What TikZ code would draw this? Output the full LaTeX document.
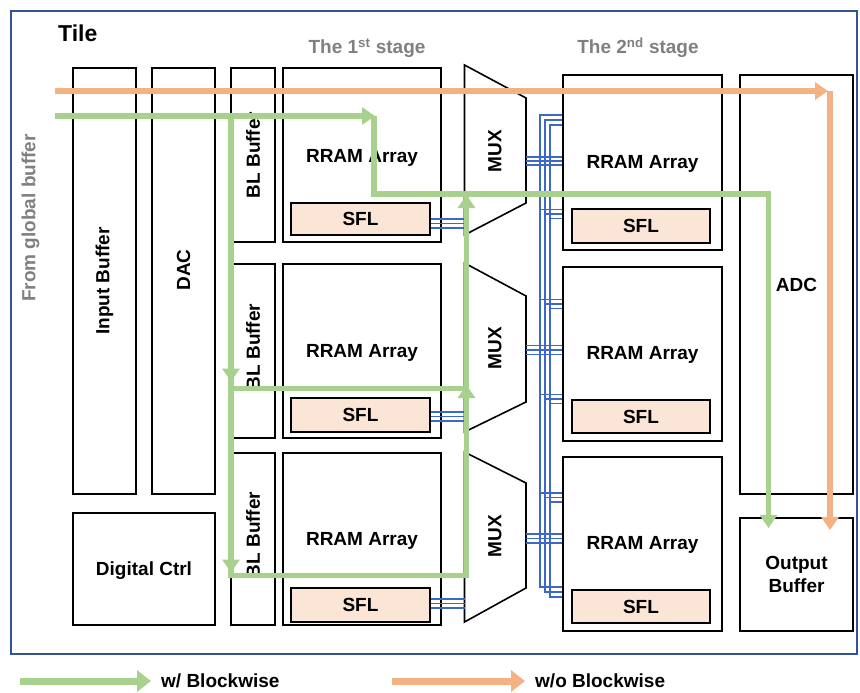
\documentclass[tikz,border=0pt]{standalone}
\usepackage{fontspec}
\setmainfont{Liberation Sans}
\usetikzlibrary{arrows.meta,calc}
\definecolor{gline}{HTML}{A9D18E}
\definecolor{oline}{HTML}{F4B183}
\definecolor{sflfill}{HTML}{FBE5D6}
\definecolor{busblue}{HTML}{3C68C8}
\definecolor{framecol}{HTML}{2F5597}
\definecolor{graytext}{HTML}{808080}
\newcommand{\labfont}{\bfseries\fontsize{19}{23}\selectfont}
\begin{document}
\begin{tikzpicture}[x=1pt,y=-1pt,
  box/.style={draw=black, line width=1.6pt, inner sep=0pt, align=center, font=\labfont},
  sflbox/.style={box, fill=sflfill},
  lab/.style={font=\labfont, inner sep=0pt},
  glab/.style={font=\labfont, text=graytext, inner sep=0pt},
  muxline/.style={draw=black, line width=1.6pt, line join=miter},
  bus/.style={draw=busblue, line width=1.3pt},
  gl/.style={draw=gline, line width=5.5pt},
  ol/.style={draw=oline, line width=5.5pt},
  garrow/.style={gl, -{Triangle[length=13pt,width=17pt]}},
  oarrow/.style={ol, -{Triangle[length=13pt,width=17pt]}},
  leggreen/.style={draw=gline, line width=7pt, -{Triangle[length=14pt,width=21pt]}},
  legorange/.style={draw=oline, line width=7pt, -{Triangle[length=14pt,width=21pt]}}
]
\useasboundingbox (0,0) rectangle (860,693);

% frame
\draw[framecol, line width=2.8pt] (11,11) rectangle (857,654);
\node[anchor=base west, font=\bfseries\fontsize{23}{27}\selectfont, inner sep=0pt] (tile) at (58,42) {Tile};
\node[glab] (st1) at (367,48) {The 1\textsuperscript{st} stage};
\node[glab] (st2) at (638,48) {The 2\textsuperscript{nd} stage};
\node[glab, rotate=90] (gbuf) at (30.5,218) {From global buffer};

% left column
\node[box, minimum width=63pt, minimum height=426pt] (inbuf) at (104.5,281) {};
\node[lab, rotate=90] at (inbuf.center) {Input Buffer};
\node[box, minimum width=63pt, minimum height=426pt] (dac) at (183.5,281) {};
\node[lab, rotate=90] at (183.5,270) {DAC};
\node[box, minimum width=142pt, minimum height=112pt] (ctrl) at (144,569) {};
\node[lab] at (144,571) {Digital Ctrl};

% BL buffers
\node[box, minimum width=44pt, minimum height=174pt] (bl1) at (253,155) {};
\node[box, minimum width=44pt, minimum height=174pt] (bl2) at (253,351) {};
\node[box, minimum width=44pt, minimum height=172pt] (bl3) at (253,539) {};
\node[lab, rotate=90] at (bl1.center) {BL Buffer};
\node[lab, rotate=90] at (253,347) {BL Buffer};
\node[lab, rotate=90] at (253,535) {BL Buffer};

% 1st stage arrays
\node[box, minimum width=158pt, minimum height=174pt] (r11) at (362,155) {};
\node[box, minimum width=158pt, minimum height=174pt] (r12) at (362,351) {};
\node[box, minimum width=158pt, minimum height=172pt] (r13) at (362,539) {};
\node[lab] at (362,157.5) {RRAM Array};
\node[lab] at (362,353) {RRAM Array};
\node[lab] at (362,541) {RRAM Array};
\node[sflbox, minimum width=139pt, minimum height=32pt] (s11) at (360.5,219) {SFL};
\node[sflbox, minimum width=139pt, minimum height=34pt] (s12) at (360.5,415) {SFL};
\node[sflbox, minimum width=139pt, minimum height=34pt] (s13) at (360.5,605) {SFL};

% 2nd stage arrays
\node[box, minimum width=159pt, minimum height=175pt] (r21) at (642.5,162.5) {};
\node[box, minimum width=159pt, minimum height=174pt] (r22) at (642.5,354) {};
\node[box, minimum width=159pt, minimum height=174pt] (r23) at (642.5,544) {};
\node[lab] at (642.5,164) {RRAM Array};
\node[lab] at (642.5,355) {RRAM Array};
\node[lab] at (642.5,545) {RRAM Array};
\node[sflbox, minimum width=138pt, minimum height=34pt] (s21) at (641,226) {SFL};
\node[sflbox, minimum width=138pt, minimum height=33pt] (s22) at (641,416.5) {SFL};
\node[sflbox, minimum width=138pt, minimum height=33pt] (s23) at (641,606.5) {SFL};

% ADC and output buffer
\node[box, minimum width=113pt, minimum height=419pt] (adc) at (796.5,284.5) {ADC};
\node[box, minimum width=113pt, minimum height=113pt] (outbuf) at (796.5,574.5) {Output\\Buffer};

% MUXes
\draw[muxline] (464.5,65) -- (526,98) coordinate (m1R) -- (526,203) -- (464.5,235) coordinate (m1L) -- cycle;
\draw[muxline] (464.5,263) -- (526,296) coordinate (m2R) -- (526,402) -- (464.5,432) coordinate (m2L) -- cycle;
\draw[muxline] (464.5,452) -- (526,483) coordinate (m3R) -- (526,588) -- (464.5,622) coordinate (m3L) -- cycle;
\node[lab, rotate=90] (mux1) at (495,151) {MUX};
\node[lab, rotate=90] (mux2) at (495,348) {MUX};
\node[lab, rotate=90] (mux3) at (495,536) {MUX};

% SFL -> MUX buses
\foreach \y in {219,223.5,228} \draw[bus] (s11.east |- 0,\y) -- (m1L |- 0,\y);
\foreach \y in {412,416.5,421} \draw[bus] (s12.east |- 0,\y) -- (m2L |- 0,\y);
\foreach \y in {599,603.5,608} \draw[bus] (s13.east |- 0,\y) -- (m3L |- 0,\y);

% MUX -> 2nd stage buses
\foreach \y in {157,161,165} \draw[bus] (m1R |- 0,\y) -- (r21.west |- 0,\y);
\foreach \y in {345.5,350,354.5} \draw[bus] (m2R |- 0,\y) -- (r22.west |- 0,\y);
\foreach \y in {534,538.5,543} \draw[bus] (m3R |- 0,\y) -- (r23.west |- 0,\y);

% vertical shared bus with taps
\foreach \i in {0,1,2} {
  \pgfmathsetmacro{\bx}{540+5*\i}
  \pgfmathsetmacro{\ty}{115+5*\i}
  \pgfmathsetmacro{\by}{587+5*\i}
  \draw[bus] (r21.west |- 0,\ty) -- (\bx,\ty) -- (\bx,\by) -- (r23.west |- 0,\by);
  \foreach \t in {209.5,299.5,394.5,493} {
    \pgfmathsetmacro{\yy}{\t+4.5*\i}
    \draw[bus] (\bx,\yy) -- (r22.west |- 0,\yy);
  }
}

% orange path (w/o blockwise)
\coordinate (ostart) at (55,91);
\coordinate (ocorner) at (830,91);
\coordinate (oend) at (830,530);
\draw[oarrow] (ostart) -- ([xshift=-2pt]ocorner);
\draw[oarrow] (ocorner) -- (oend);

% green path (w/ blockwise)
\coordinate (gstart) at (55,116);
\coordinate (gc1) at (374,116);
\coordinate (gc2) at (374,194);
\coordinate (gc3) at (768.5,194);
\coordinate (gend) at (768.5,528);
\coordinate (gb1) at (231,116);
\coordinate (gb2) at (231,388.5);
\coordinate (gb3) at (231,575.5);
\coordinate (gr2) at (466.5,388.5);
\coordinate (gr3) at (466.5,575.5);
\coordinate (gtop) at (466.5,194);
\draw[garrow] (gstart) -- ([xshift=1pt]gc1);
\draw[garrow] (gc1) -- (gc2) -- (gc3) -- (gend);
\draw[gl] (gb1) -- (gb3) -- (gr3) -- (gtop);
\draw[gl] (gb2) -- (gr2);
\draw[garrow] (gb1) -- ([yshift=7pt]gb2);
\draw[garrow] (gb2) -- ([yshift=3pt]gb3);
\draw[garrow] (gr3) -- ([yshift=3.5pt]gr2);
\draw[garrow] (gr2) -- ([yshift=-1pt]gtop);

% legend
\coordinate (lg1) at (20,681);
\coordinate (lg2) at (151,681);
\coordinate (lo1) at (392,681);
\coordinate (lo2) at (525,681);
\draw[leggreen] (lg1) -- (lg2);
\draw[legorange] (lo1) -- (lo2);
\node[lab, anchor=west] (lgt) at (161,681) {w/ Blockwise};
\node[lab, anchor=west] (lot) at (535,681) {w/o Blockwise};
\end{tikzpicture}
\end{document}
